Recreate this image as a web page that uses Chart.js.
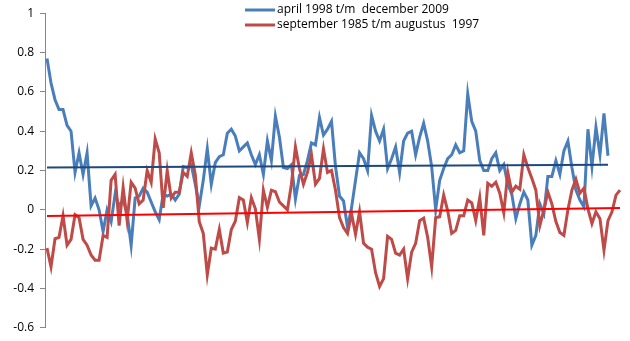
<!DOCTYPE html>
<html>
<head>
<meta charset="utf-8">
<script src="https://cdn.jsdelivr.net/npm/chart.js@4.4.1/dist/chart.umd.min.js"></script>
<style>
  html, body { margin: 0; padding: 0; background: #fff; }
</style>
</head>
<body>
<canvas id="myChart" width="630" height="341"></canvas>
<script>
// month index along the x axis (144 months per period)
const months = Array.from({ length: 144 }, (_, i) => String(i + 1));

const yTicks = [-0.6, -0.4, -0.2, 0, 0.2, 0.4, 0.6, 0.8, 1];

// april 1998 t/m december 2009 (141 months)
const recent = [
  0.77, 0.645, 0.56, 0.51, 0.51, 0.43, 0.40, 0.19, 0.29, 0.18,
  0.29, 0.02, 0.06, 0.0, -0.11, 0.0, -0.06, 0.08, 0.02, 0.05,
  -0.02, -0.18, 0.06, 0.07, 0.11, 0.09, 0.04, -0.01, -0.05, 0.08,
  0.07, 0.08, 0.05, 0.08, 0.22, 0.215, 0.23, 0.13, 0.02, 0.15,
  0.31, 0.13, 0.24, 0.27, 0.28, 0.39, 0.41, 0.375, 0.30, 0.32,
  0.34, 0.28, 0.23, 0.28, 0.18, 0.35, 0.25, 0.476, 0.37, 0.215,
  0.21, 0.23, 0.055, 0.175, 0.18, 0.25, 0.34, 0.33, 0.47, 0.38,
  0.41, 0.45, 0.22, 0.07, 0.045, -0.09, 0.01, 0.15, 0.29, 0.26,
  0.2, 0.48, 0.40, 0.35, 0.41, 0.21, 0.26, 0.32, 0.19, 0.35,
  0.39, 0.40, 0.28, 0.37, 0.44, 0.35, 0.22, 0.0, 0.15, 0.21,
  0.26, 0.28, 0.33, 0.29, 0.30, 0.59, 0.45, 0.40, 0.25, 0.20,
  0.2, 0.26, 0.29, 0.2, 0.23, 0.13, 0.08, -0.045, 0.03, 0.09,
  0.05, -0.18, -0.13, 0.03, -0.02, 0.17, 0.17, 0.25, 0.18, 0.30,
  0.35, 0.215, 0.10, 0.05, 0.015, 0.41, 0.22, 0.42, 0.28, 0.49,
  0.275
];

// september 1985 t/m augustus 1997 (144 months)
const earlier = [
  -0.195, -0.29, -0.147, -0.14, -0.03, -0.18, -0.15, -0.025, -0.04, -0.15,
  -0.18, -0.23, -0.256, -0.256, -0.13, -0.14, 0.15, 0.18, -0.08, 0.114,
  -0.055, 0.14, 0.11, 0.03, 0.05, 0.2, 0.14, 0.36, 0.29, 0.01,
  0.2, 0.06, 0.09, 0.09, 0.19, 0.17, 0.29, 0.18, -0.06, -0.12,
  -0.33, -0.195, -0.2, -0.1, -0.22, -0.215, -0.1, -0.058, 0.062, 0.05,
  -0.065, 0.062, 0.005, -0.15, 0.1, 0.012, 0.1, 0.092, 0.04, 0.02,
  0.0, 0.13, 0.32, 0.21, 0.13, 0.19, 0.28, 0.13, 0.16, 0.31,
  0.19, 0.2, 0.1, -0.04, -0.09, -0.12, -0.02, -0.125, -0.01, -0.17,
  -0.19, -0.2, -0.32, -0.39, -0.35, -0.135, -0.15, -0.22, -0.23, -0.2,
  -0.35, -0.215, -0.17, -0.055, -0.042, -0.14, -0.29, -0.04, -0.035, 0.075,
  -0.005, -0.12, -0.105, -0.03, -0.03, 0.05, 0.035, -0.055, 0.062, -0.13,
  0.135, 0.12, 0.14, 0.085, -0.015, 0.19, 0.09, 0.12, 0.105, 0.28,
  0.215, 0.16, 0.1, -0.08, 0.0, 0.09, 0.03, -0.06, -0.115, -0.13,
  0.0, 0.1, 0.155, 0.085, 0.11, 0.005, -0.07, -0.01, -0.045, -0.205,
  -0.055, -0.01, 0.075, 0.1
];

// linear trend lines, start and end value
const recentTrend = [0.215, 0.229];
const earlierTrend = [-0.032, 0.009];

const trendPoints = (ends, n) => [
  { x: months[0], y: ends[0] },
  { x: months[n - 1], y: ends[1] },
];

const recentSeries = {
  label: "april 1998 t/m  december 2009",
  data: recent,
  borderColor: "#4A7EBB",
  borderWidth: 3,
  pointRadius: 0,
  tension: 0,
  order: 3,
};

const earlierSeries = {
  label: "september 1985 t/m augustus  1997",
  data: earlier,
  borderColor: "#BE4B48",
  borderWidth: 3,
  pointRadius: 0,
  tension: 0,
  order: 2,
};

// trend lines are drawn on top, they are not in the legend
const data = {
  labels: months,
  datasets: [
    {
      label: "trend 1998-2009",
      data: trendPoints(recentTrend, recent.length),
      borderColor: "#1F497D",
      borderWidth: 2,
      pointRadius: 0,
      tension: 0,
      order: 0,
    },
    {
      label: "trend 1985-1997",
      data: trendPoints(earlierTrend, earlier.length),
      borderColor: "#FF0000",
      borderWidth: 2,
      pointRadius: 0,
      tension: 0,
      order: 1,
    },
    earlierSeries,
    recentSeries,
  ],
};

const legendOrder = [recentSeries, earlierSeries];

// two stacked legend rows above the plot, like the excel original
const stackedLegend = {
  id: "stackedLegend",
  afterDraw(chart) {
    const ctx = chart.ctx;
    ctx.save();
    ctx.font = "12px 'Open Sans', sans-serif";
    ctx.textBaseline = "middle";
    ctx.textAlign = "left";
    legendOrder.forEach((ds, i) => {
      const y = 10 + i * 15;
      ctx.strokeStyle = ds.borderColor;
      ctx.lineWidth = 3;
      ctx.beginPath();
      ctx.moveTo(245, y);
      ctx.lineTo(275, y);
      ctx.stroke();
      ctx.fillStyle = "#000";
      ctx.fillText(ds.label, 277, y);
    });
    ctx.restore();
  },
};

const config = {
  type: "line",
  data,
  options: {
    responsive: false,
    animation: false,
    layout: { padding: { top: 12, right: 8, bottom: 13, left: 0 } },
    plugins: {
      legend: { display: false },
      tooltip: { enabled: false },
    },
    scales: {
      x: {
        type: "category",
        offset: true,
        display: false,
      },
      y: {
        min: yTicks[0],
        max: yTicks[yTicks.length - 1],
        afterFit: (scale) => {
          scale.width = 45;
        },
        afterBuildTicks: (scale) => {
          scale.ticks = yTicks.map((v) => ({ value: v }));
        },
        ticks: {
          padding: 6,
          color: "#000",
          font: { family: "'Open Sans', sans-serif", size: 12 },
          callback: (v) => String(Number(v.toFixed(1))),
        },
        grid: {
          drawOnChartArea: false,
          tickLength: 5,
          color: "#868686",
        },
        border: { display: true, color: "#868686", width: 1 },
      },
    },
  },
  plugins: [stackedLegend],
};

var myChart = new Chart(document.getElementById("myChart"), config);
</script>
</body>
</html>
